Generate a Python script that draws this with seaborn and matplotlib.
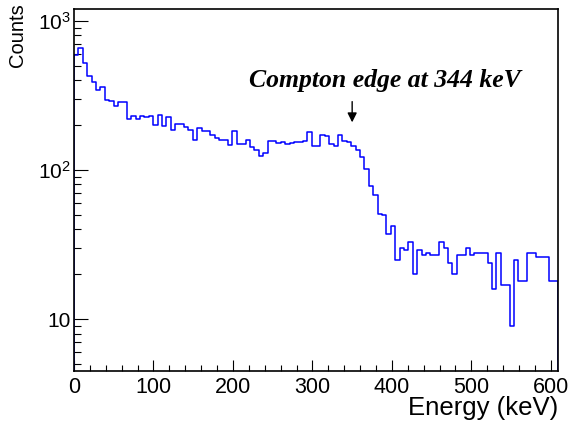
import numpy as np
import pandas as pd
import matplotlib
matplotlib.use("Agg")
import matplotlib.pyplot as plt
import seaborn as sns
from matplotlib.ticker import MultipleLocator, LogLocator, FixedLocator, FixedFormatter, NullFormatter

# ---- data ----
energy_min = 0.0
energy_max = 609.0
n_bins = 110
counts = [590, 660, 520, 425, 392, 343, 358, 296, 290, 270,
          287, 287, 221, 231, 221, 230, 225, 230, 200, 235,
          198, 228, 185, 205, 205, 194, 185, 158, 192, 183,
          183, 173, 165, 160, 158, 147, 183, 150, 150, 159,
          143, 137, 125, 131, 156, 156, 152, 155, 150, 152,
          155, 155, 156, 180, 146, 146, 173, 169, 150, 145,
          173, 156, 155, 145, 137, 122, 101, 78, 68, 51,
          50, 37, 42, 25, 30, 29, 33, 20, 29, 27,
          28, 27, 27, 33, 30, 24, 20, 27, 27, 30,
          27, 28, 28, 28, 24, 16, 28, 17, 17, 9,
          25, 18, 18, 28, 28, 26, 26, 26, 18, 18]
y_tick_values = [10, 100, 1000]
y_tick_labels = ["10", r"$\mathregular{10^{2}}$", r"$\mathregular{10^{3}}$"]
annotation_text = "Compton edge at 344 keV"
edge_marker_energy = 350

binwidth = (energy_max - energy_min) / n_bins
centers = energy_min + binwidth * (np.arange(n_bins) + 0.5)
df = pd.DataFrame({"energy": centers, "counts": counts})

# ---- style ----
sns.set_style("white")
plt.rcParams["font.family"] = ["Liberation Sans", "DejaVu Sans"]
plt.rcParams["mathtext.fontset"] = "custom"
plt.rcParams["mathtext.rm"] = "Liberation Sans"
for key in ["text.color", "axes.labelcolor", "xtick.color", "ytick.color",
            "xtick.labelcolor", "ytick.labelcolor"]:
    plt.rcParams[key] = "black"

fig = plt.figure(figsize=(5.74, 4.25), dpi=100)
ax = fig.add_axes([74 / 574, 1 - 371 / 425, (558 - 74) / 574, (371 - 9) / 425])

sns.histplot(data=df, x="energy", weights="counts", binwidth=binwidth,
             binrange=(energy_min, energy_max),
             element="step", fill=True, color="blue", ax=ax, linewidth=1.1)
for coll in ax.collections:
    coll.set_facecolor("none")
    coll.set_edgecolor((0, 0, 1))
    coll.set_linewidth(1.1)

ax.set_yscale("log")
ax.set_xlim(energy_min, energy_max)
ax.set_ylim(4.5, 1200)

ax.xaxis.set_major_locator(MultipleLocator(100))
ax.xaxis.set_minor_locator(MultipleLocator(20))
ax.yaxis.set_major_locator(FixedLocator(y_tick_values))
ax.yaxis.set_major_formatter(FixedFormatter(y_tick_labels))
ax.yaxis.set_minor_locator(LogLocator(base=10, subs=np.arange(2, 10)))
ax.yaxis.set_minor_formatter(NullFormatter())

ax.tick_params(axis="x", which="major", direction="in", length=8, width=0.8,
               color="black", labelcolor="black", labelsize=15.5, pad=4,
               top=False, bottom=True)
ax.tick_params(axis="x", which="minor", direction="in", length=4, width=0.8,
               color="black", top=False, bottom=True)
ax.tick_params(axis="y", which="major", direction="in", length=10, width=0.8,
               color="black", labelcolor="black", labelsize=15, pad=2,
               left=True, right=False)
ax.tick_params(axis="y", which="minor", direction="in", length=5, width=0.8,
               color="black", left=True, right=False)

for s in ax.spines.values():
    s.set_visible(True)
    s.set_color("black")
    s.set_linewidth(1.2)

ax.set_xlabel("Energy (keV)", fontsize=18.5, ha="right", va="top", color="black")
ax.xaxis.set_label_coords(1.0, -0.07)
ax.set_ylabel("Counts", fontsize=14.5, ha="right", va="bottom", color="black")
ax.yaxis.set_label_coords(-0.097, 1.016)

ax.text(391, 396, annotation_text, ha="center", va="center",
        fontsize=18.5, fontfamily="Liberation Serif", fontweight="bold",
        fontstyle="italic", color="black")
ax.annotate("", xy=(edge_marker_energy, 200), xytext=(edge_marker_energy, 300),
            arrowprops=dict(arrowstyle="-|>", color="black", lw=1.0,
                            mutation_scale=14))

fig.savefig("out.png", dpi=100, facecolor="white")
